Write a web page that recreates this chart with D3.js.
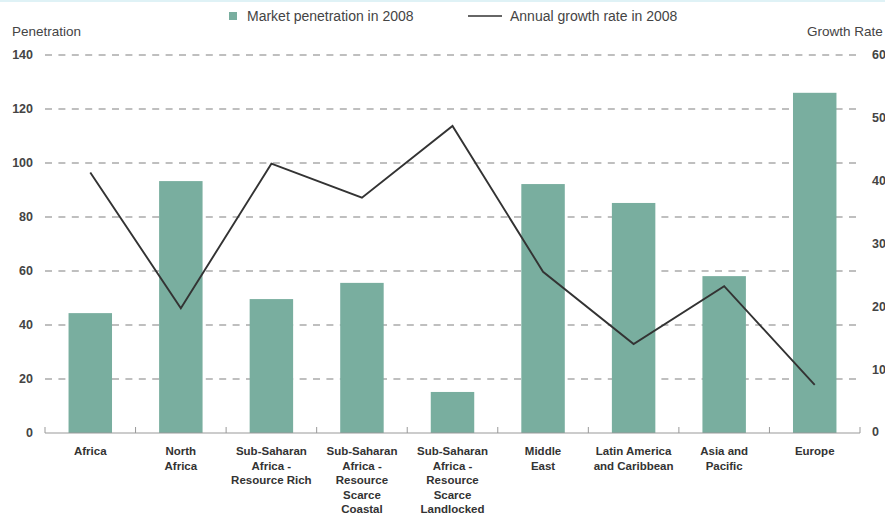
<!DOCTYPE html>
<html>
<head>
<meta charset="utf-8">
<script src="https://cdn.jsdelivr.net/npm/d3@7"></script>
<style>
  body { margin: 0; background: #fff; }
  svg text { font-family: "Liberation Sans", Arial, sans-serif; }
</style>
</head>
<body>
<div id="chart"></div>
<script>
// regions, each label split into its lines
var regions = [
    ["Africa"],
    ["North", "Africa"],
    ["Sub-Saharan", "Africa -", "Resource Rich"],
    ["Sub-Saharan", "Africa -", "Resource", "Scarce", "Coastal"],
    ["Sub-Saharan", "Africa -", "Resource", "Scarce", "Landlocked"],
    ["Middle", "East"],
    ["Latin America", "and Caribbean"],
    ["Asia and", "Pacific"],
    ["Europe"]
];
var penetration = [44.4, 93.3, 49.6, 55.6, 15.2, 92.2, 85.2, 58.1, 126];
var growth = [41.3, 19.7, 42.7, 37.3, 48.7, 25.5, 14.0, 23.2, 7.5];
var leftTicks = [0, 20, 40, 60, 80, 100, 120, 140];
var rightTicks = [0, 10, 20, 30, 40, 50, 60];

var width = 885;
var height = 515;
// note: "top" is taken by window.top, so the plot edges get their own names
var plotLeft = 45, plotRight = 860, plotTop = 55, plotBottom = 433;

var svg = d3.select("#chart")
    .append("svg")
    .attr("width", width)
    .attr("height", height);

// thin frame line at the very top
svg.append("rect")
    .attr("x", 0).attr("y", 0)
    .attr("width", width).attr("height", 2)
    .attr("fill", "#dff2f6");

var ids = regions.map((d, i) => i);

var x = d3.scaleBand()
    .domain(ids)
    .range([plotLeft, plotRight])
    .paddingInner(0.52)
    .paddingOuter(0.26);

var yL = d3.scaleLinear().domain([0, 140]).range([plotBottom, plotTop]);
var yR = d3.scaleLinear().domain([0, 60]).range([plotBottom - 1, plotTop]);

// dashed grid
svg.append("g")
    .selectAll("line")
    .data(leftTicks.filter((d) => d > 0))
    .enter().append("line")
    .attr("x1", plotLeft).attr("x2", plotRight - 3)
    .attr("y1", (d) => yL(d)).attr("y2", (d) => yL(d))
    .attr("stroke", "#aaa")
    .attr("stroke-width", 1.4)
    .attr("stroke-dasharray", "7,6.4");

// bars
svg.append("g")
    .selectAll("rect")
    .data(penetration)
    .enter().append("rect")
    .attr("x", (d, i) => x(i))
    .attr("y", (d) => yL(d))
    .attr("width", x.bandwidth())
    .attr("height", (d) => yL(0) - yL(d))
    .attr("fill", "#79ae9f");

// baseline with ticks between categories
var base = svg.append("g");
base.append("line")
    .attr("x1", plotLeft).attr("x2", plotRight)
    .attr("y1", plotBottom).attr("y2", plotBottom)
    .attr("stroke", "#999").attr("stroke-width", 1);
var step = (plotRight - plotLeft) / regions.length;
base.selectAll("line.tick")
    .data(d3.range(regions.length + 1))
    .enter().append("line")
    .attr("class", "tick")
    .attr("x1", (d) => plotLeft + d * step).attr("x2", (d) => plotLeft + d * step)
    .attr("y1", plotBottom).attr("y2", plotBottom - 6)
    .attr("stroke", "#999").attr("stroke-width", 1);

// growth line
svg.append("path")
    .datum(growth)
    .attr("fill", "none")
    .attr("stroke", "#333")
    .attr("stroke-width", 1.9)
    .attr("d", d3.line()
        .x((d, i) => x(i) + x.bandwidth() / 2)
        .y((d) => yR(d)));

// left axis labels
svg.append("g")
    .selectAll("text")
    .data(leftTicks)
    .enter().append("text")
    .attr("x", 33)
    .attr("y", (d) => yL(d))
    .attr("dy", "0.35em")
    .attr("text-anchor", "end")
    .attr("font-size", 12.5)
    .attr("font-weight", "bold")
    .attr("fill", "#444")
    .text((d) => d);

// right axis labels (cut by the page edge, as in the source)
svg.append("g")
    .selectAll("text")
    .data(rightTicks)
    .enter().append("text")
    .attr("x", 872)
    .attr("y", (d) => yR(d))
    .attr("dy", "0.35em")
    .attr("font-size", 12.5)
    .attr("font-weight", "bold")
    .attr("fill", "#444")
    .text((d) => d);

// axis titles
svg.append("text")
    .attr("x", 12).attr("y", 36)
    .attr("font-size", 13.5).attr("fill", "#444")
    .text("Penetration");
svg.append("text")
    .attr("x", 807).attr("y", 36)
    .attr("font-size", 13.5).attr("fill", "#444")
    .text("Growth Rate");

// category labels
var cats = svg.append("g")
    .selectAll("text")
    .data(regions)
    .enter().append("text")
    .attr("x", (d, i) => x(i) + x.bandwidth() / 2)
    .attr("y", 455)
    .attr("text-anchor", "middle")
    .attr("font-size", 11.5)
    .attr("font-weight", "bold")
    .attr("fill", "#333");
cats.selectAll("tspan")
    .data((d) => d)
    .enter().append("tspan")
    .attr("x", function() { return d3.select(this.parentNode).attr("x"); })
    .attr("dy", (d, i) => i == 0 ? 0 : 14.5)
    .text((d) => d);

// legend
var legend = svg.append("g");
legend.append("rect")
    .attr("x", 229).attr("y", 12)
    .attr("width", 8).attr("height", 8)
    .attr("fill", "#79ae9f");
legend.append("text")
    .attr("x", 247).attr("y", 21)
    .attr("font-size", 14).attr("fill", "#444")
    .text("Market penetration in 2008");
legend.append("line")
    .attr("x1", 468).attr("x2", 502)
    .attr("y1", 16).attr("y2", 16)
    .attr("stroke", "#333").attr("stroke-width", 1.5);
legend.append("text")
    .attr("x", 510).attr("y", 21)
    .attr("font-size", 14).attr("fill", "#444")
    .text("Annual growth rate in 2008");
</script>
</body>
</html>
